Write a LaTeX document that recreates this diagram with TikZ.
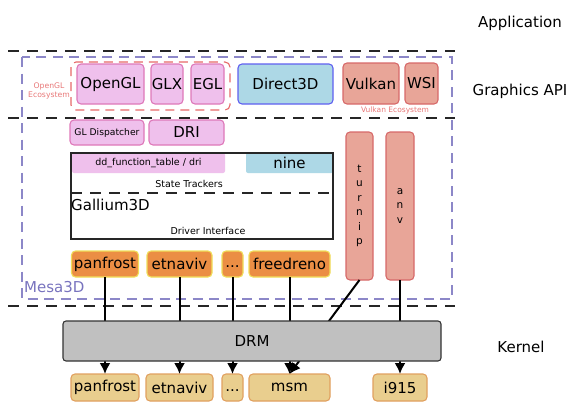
\documentclass[tikz,border=0pt]{standalone}
\usepackage{fontspec}
\setmainfont{DejaVu Sans}
\usetikzlibrary{arrows.meta}
\definecolor{pinkfill}{RGB}{239,192,236}
\definecolor{pinkline}{RGB}{222,120,185}
\definecolor{bluefill}{RGB}{173,216,230}
\definecolor{blueline}{RGB}{95,95,240}
\definecolor{vkfill}{RGB}{232,165,152}
\definecolor{vkline}{RGB}{215,105,105}
\definecolor{orfill}{RGB}{235,142,68}
\definecolor{orline}{RGB}{240,222,90}
\definecolor{tanfill}{RGB}{233,206,142}
\definecolor{tanline}{RGB}{225,160,95}
\definecolor{drmfill}{RGB}{192,192,192}
\definecolor{purp}{RGB}{140,135,200}
\definecolor{purptext}{RGB}{120,115,190}
\definecolor{redd}{RGB}{230,105,105}
\definecolor{salmontext}{RGB}{232,120,120}
\tikzset{
  x=1pt, y=-1pt,
  base/.style={inner sep=0pt, outer sep=0pt, rounded corners=4pt, line width=1.1pt, font=\fontsize{15}{18}\selectfont},
  pinkbox/.style={base, draw=pinkline, fill=pinkfill},
  bluebox/.style={base, draw=blueline, fill=bluefill},
  vkbox/.style={base, draw=vkline, fill=vkfill},
  drvbox/.style={base, draw=orline, fill=orfill},
  kbox/.style={base, draw=tanline, fill=tanfill},
  layerline/.style={line width=1.3pt, black!85, dash pattern=on 11pt off 8pt},
  smalltext/.style={inner sep=0pt, font=\fontsize{9.5}{11}\selectfont},
  arr/.style={line width=2pt, -{Latex[length=11pt,width=11pt]}},
}
\begin{document}
\begin{tikzpicture}
\useasboundingbox (0,0) rectangle (579,410);
% layer labels
\node[inner sep=0pt, font=\fontsize{15}{18}\selectfont] (lapp) at (520,23) {Application};
\node[inner sep=0pt, font=\fontsize{15}{18}\selectfont] (lapi) at (520,91) {Graphics API};
\node[inner sep=0pt, font=\fontsize{15}{18}\selectfont] (lker) at (521,347) {Kernel};
% layer separators
\draw[layerline] (8,51) -- (455,51);
\draw[layerline] (8,118) -- (455,118);
\draw[layerline] (8,306) -- (455,306);
% Mesa3D frame
\draw[purp, line width=1.2pt, dash pattern=on 10pt off 6.5pt] (22,57) rectangle (452,299);
\node[anchor=west, inner sep=0pt, text=purptext, font=\fontsize{15}{18}\selectfont] (mesa) at (24,287) {Mesa3D};
% OpenGL ecosystem
\draw[redd, line width=1.1pt, dash pattern=on 9pt off 6pt, rounded corners=5pt] (71,62) rectangle (230,110);
\node[align=center, inner sep=0pt, text=salmontext, font=\fontsize{7.7}{9.5}\selectfont] (oglEco) at (49,91) {OpenGL\\Ecosystem};
\node[pinkbox, minimum width=67, minimum height=40] (opengl) at (110.5,84) {OpenGL};
\node[pinkbox, minimum width=32, minimum height=40] (glx) at (167,84) {GLX};
\node[pinkbox, minimum width=33, minimum height=40] (egl) at (207.5,84) {EGL};
\node[bluebox, minimum width=95, minimum height=40] (d3d) at (285.5,84) {Direct3D};
\node[vkbox, minimum width=56, minimum height=41] (vulkan) at (371,83.5) {Vulkan};
\node[vkbox, minimum width=33, minimum height=41] (wsi) at (421.5,83.5) {WSI};
\node[inner sep=0pt, text=salmontext, font=\fontsize{7.5}{9}\selectfont] (vkEco) at (395,110.5) {Vulkan Ecosystem};
% dispatcher
\node[pinkbox, minimum width=74, minimum height=25, font=\fontsize{9.2}{11}\selectfont] (gldisp) at (107,132.5) {GL Dispatcher};
\node[pinkbox, minimum width=75, minimum height=25] (dri) at (186.5,132.5) {DRI};
% Gallium
\node[base, rounded corners=0pt, draw=none, fill=white, minimum width=262, minimum height=86] (gallium) at (202,196) {};
\node[base, rounded corners=2pt, draw=none, fill=pinkfill, minimum width=153, minimum height=20, font=\fontsize{9.5}{11}\selectfont] (ddft) at (148.5,163) {dd\_function\_table / dri};
\node[base, rounded corners=2pt, draw=none, fill=bluefill, minimum width=87, minimum height=20] (nine) at (289.5,163) {nine};
\draw[black!85, line width=1.2pt] (gallium.north west) rectangle (gallium.south east);
\node[smalltext] (st) at (189,184) {State Trackers};
\draw[layerline] (71,193) -- (333,193);
\node[anchor=west, inner sep=0pt, font=\fontsize{15}{18}\selectfont] (g3d) at (71,205) {Gallium3D};
\node[smalltext] (di) at (208,231) {Driver Interface};
% user-space drivers
\node[drvbox, minimum width=67, minimum height=26] (panfrost) at (105,264) {panfrost};
\node[drvbox, minimum width=65, minimum height=26] (etnaviv) at (179.5,264) {etnaviv};
\node[drvbox, minimum width=21, minimum height=26] (dots) at (232.5,264) {\vphantom{Ap}...};
\node[drvbox, minimum width=81, minimum height=26] (freedreno) at (289.5,264) {freedreno};
\node[vkbox, minimum width=27, minimum height=148, align=center, font=\fontsize{10.5}{14.4}\selectfont] (turnip) at (359.5,206) {t\\u\\r\\n\\i\\p};
\node[vkbox, minimum width=28, minimum height=148, align=center, font=\fontsize{10.5}{14.2}\selectfont] (anv) at (400,206) {a\\n\\v};
% kernel drivers
\node[kbox, minimum width=68, minimum height=27] (kpanfrost) at (105,387.5) {panfrost};
\node[kbox, minimum width=67, minimum height=27] (ketnaviv) at (179.5,387.5) {etnaviv};
\node[kbox, minimum width=21, minimum height=27] (kdots) at (232.5,387.5) {\vphantom{Ap}...};
\node[kbox, minimum width=81, minimum height=27] (msm) at (289.5,387.5) {msm};
\node[kbox, minimum width=54, minimum height=27] (i915) at (400,387.5) {i915};
% connectors
\draw[arr] (panfrost.south) -- (kpanfrost.north);
\draw[arr] (etnaviv.south) -- (ketnaviv.north);
\draw[arr] (dots.south) -- (kdots.north);
\draw[arr] (freedreno.south) -- (msm.north);
\draw[arr] (turnip.south) -- (msm.north);
\draw[arr] (anv.south) -- (i915.north);
% DRM on top
\node[base, rounded corners=3pt, draw=black!80, fill=drmfill, minimum width=378, minimum height=40] (drm) at (252,341) {DRM};
\end{tikzpicture}
\end{document}
